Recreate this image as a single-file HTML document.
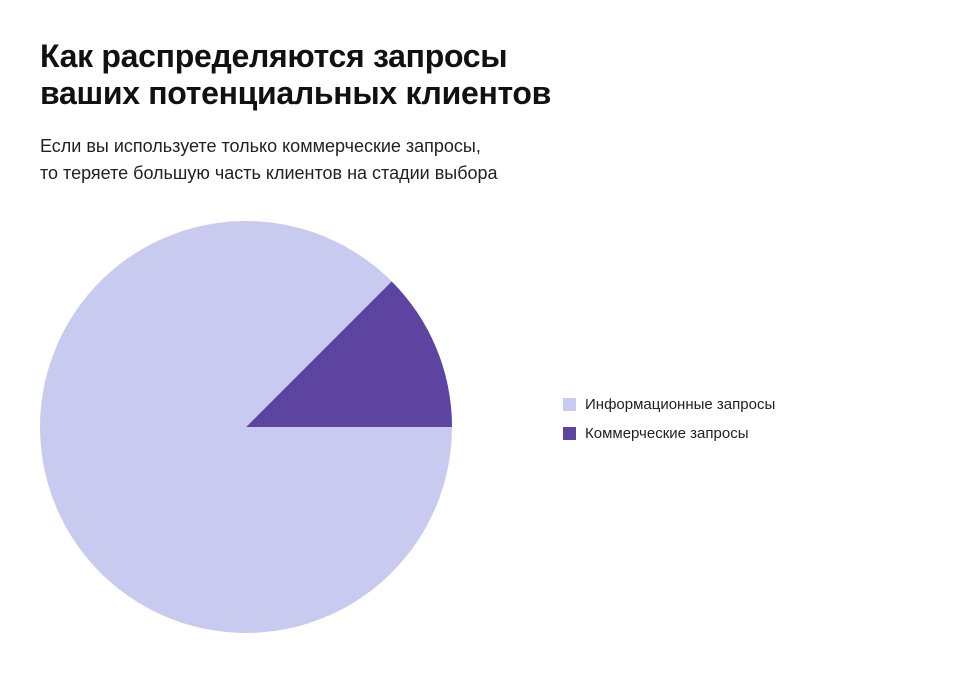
<!DOCTYPE html>
<html><head><meta charset="utf-8"><style>
body{margin:0;width:960px;height:673px;background:#fff;font-family:"Liberation Sans","Noto Sans CJK SC",sans-serif;position:relative;overflow:hidden}
h1{position:absolute;left:40px;top:38px;margin:0;font-size:32px;line-height:37px;font-weight:bold;color:#111;letter-spacing:-0.3px}
p{position:absolute;left:40px;top:133px;margin:0;font-size:18px;line-height:27px;color:#222}
.leg{position:absolute;left:563px;font-size:15px;color:#222;display:flex;align-items:center}
.leg span.sw{width:13px;height:13px;margin-right:9px;display:inline-block}
</style></head><body>
<h1>Как распределяются запросы<br>ваших потенциальных клиентов</h1>
<p>Если вы используете только коммерческие запросы,<br>то теряете большую часть клиентов на стадии выбора</p>
<svg id="pie" width="960" height="673" style="position:absolute;left:0;top:0"></svg>
<div class="leg" style="top:396px"><span class="sw" style="background:#c8cbef"></span>Информационные запросы</div>
<div class="leg" style="top:425px"><span class="sw" style="background:#5c44a0"></span>Коммерческие запросы</div>
<script>
const categories=["Информационные запросы","Коммерческие запросы"];
const values=[87.5,12.5];
const colors=["#c8cbef","#5c44a0"];
const svg=document.getElementById('pie');
const cx=246,cy=427,r=206;
const total=values.reduce((a,b)=>a+b,0);
// commercial ends at angle 0 (east); draw going counterclockwise from there
let start=0;
for(let i=values.length-1;i>=0;i--){
  const sweep=values[i]/total*2*Math.PI;
  const a0=-start-sweep,a1=-start;
  const x0=cx+r*Math.cos(a0),y0=cy+r*Math.sin(a0),x1=cx+r*Math.cos(a1),y1=cy+r*Math.sin(a1);
  const large=sweep>Math.PI?1:0;
  const p=document.createElementNS('http://www.w3.org/2000/svg','path');
  p.setAttribute('d',`M${cx},${cy} L${x0},${y0} A${r},${r} 0 ${large} 1 ${x1},${y1} Z`);
  p.setAttribute('fill',colors[i]);
  
  
  svg.appendChild(p);
  start+=sweep;
}
</script>
</body></html>
